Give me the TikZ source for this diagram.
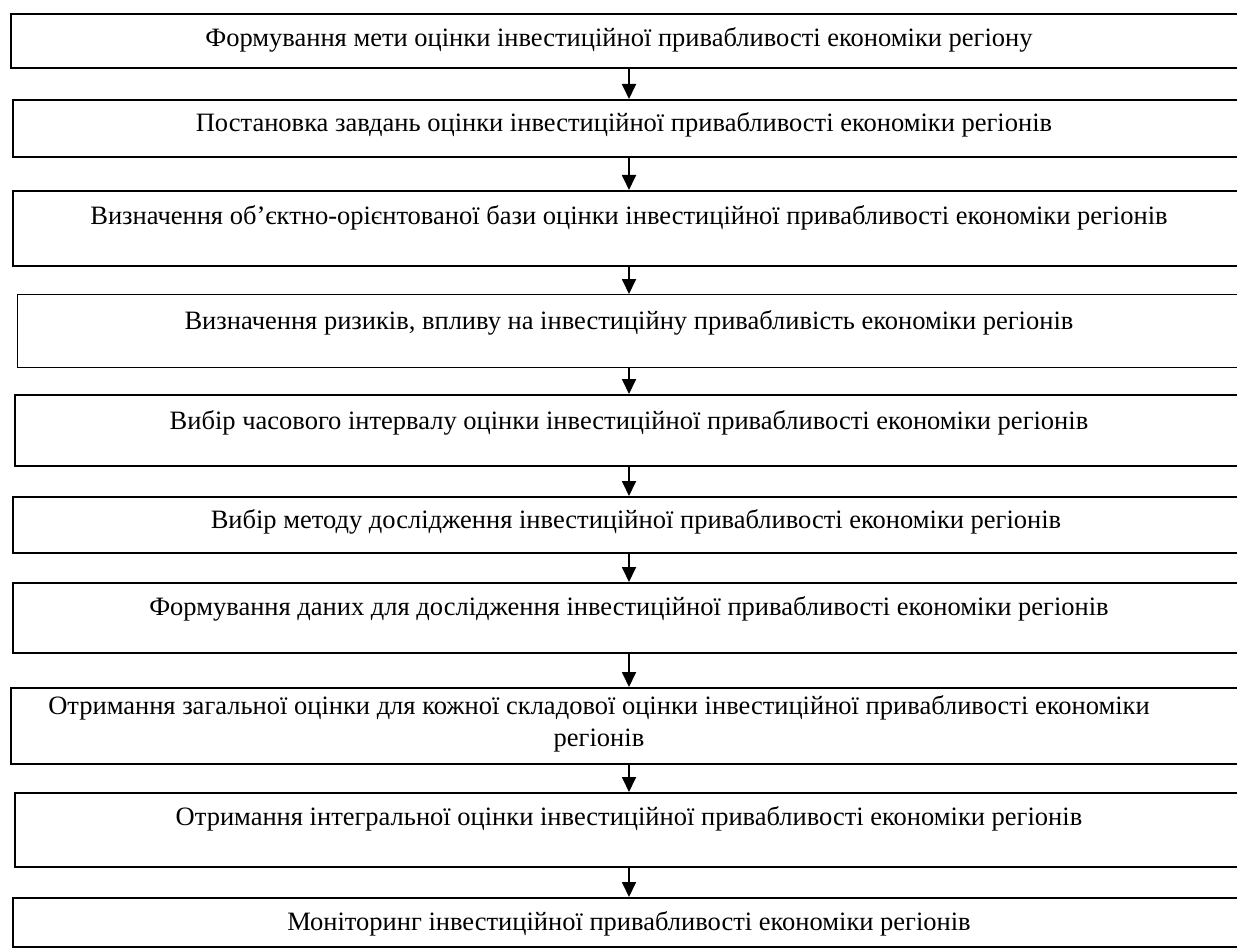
\documentclass[tikz,border=0pt]{standalone}
\usepackage{fontspec}
\setmainfont{Liberation Serif}
\usetikzlibrary{arrows.meta}
\begin{document}
\begin{tikzpicture}[x=1pt,y=-1pt,
  box/.style={draw, line width=1.6pt, anchor=north west, inner sep=0pt},
  txt/.style={font=\fontsize{26.5}{32}\selectfont, align=center, inner sep=0pt},
  arr/.style={line width=1.8pt, -{Triangle[width=14pt,length=15pt]}}]
\useasboundingbox (0,0) rectangle (1237,952);
\coordinate (ax) at (629,0);
\node[box, minimum width=1232pt, minimum height=54pt] (b1) at (10,13) {};
\node[box, minimum width=1230pt, minimum height=57pt] (b2) at (12,99) {};
\node[box, minimum width=1230pt, minimum height=75pt] (b3) at (12,190) {};
\node[box, line width=1.2pt, minimum width=1225pt, minimum height=73pt] (b4) at (17,294) {};
\node[box, minimum width=1228pt, minimum height=71pt] (b5) at (14,394) {};
\node[box, minimum width=1230pt, minimum height=56pt] (b6) at (12,496) {};
\node[box, minimum width=1230pt, minimum height=70pt] (b7) at (12,582) {};
\node[box, minimum width=1232pt, minimum height=76pt] (b8) at (10,687) {};
\node[box, minimum width=1228pt, minimum height=74pt] (b9) at (14,792) {};
\node[box, minimum width=1230pt, minimum height=49pt] (b10) at (12,897) {};
\node[txt] (t1) at (619,40) {Формування мети оцінки інвестиційної привабливості економіки регіону};
\node[txt] (t2) at (624,125) {Постановка завдань оцінки інвестиційної привабливості економіки регіонів};
\node[txt] (t3) at (629,218) {Визначення об’єктно-орієнтованої бази оцінки інвестиційної привабливості економіки регіонів};
\node[txt] (t4) at (629,323) {Визначення ризиків, впливу на інвестиційну привабливість економіки регіонів};
\node[txt] (t5) at (629,423) {Вибір часового інтервалу оцінки інвестиційної привабливості економіки регіонів};
\node[txt] (t6) at (636,522) {Вибір методу дослідження інвестиційної привабливості економіки регіонів};
\node[txt] (t7) at (629,609) {Формування даних для дослідження інвестиційної привабливості економіки регіонів};
\node[txt] (t8) at (599,724) {Отримання загальної оцінки для кожної складової оцінки інвестиційної привабливості економіки\\регіонів};
\node[txt] (t9) at (629,819) {Отримання інтегральної оцінки інвестиційної привабливості економіки регіонів};
\node[txt] (t10) at (629,924) {Моніторинг інвестиційної привабливості економіки регіонів};
\foreach \a/\b in {b1/b2,b2/b3,b3/b4,b4/b5,b5/b6,b6/b7,b7/b8,b8/b9,b9/b10}
  \draw[arr] (\a.south -| ax) -- (\b.north -| ax);
\end{tikzpicture}
\end{document}
